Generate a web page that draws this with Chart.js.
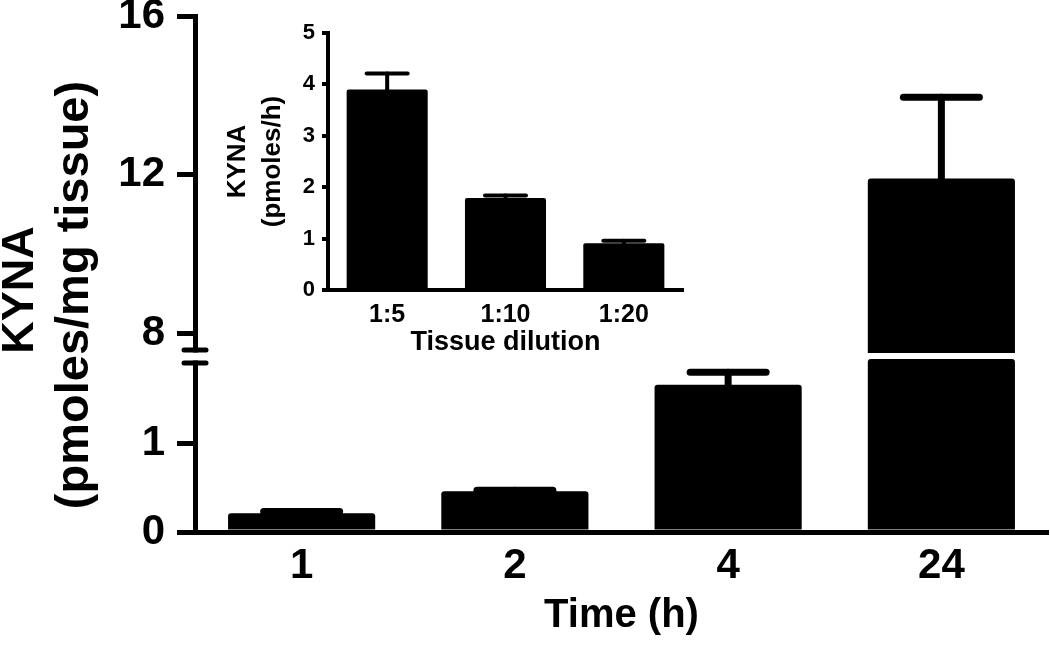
<!DOCTYPE html>
<html>
<head>
<meta charset="utf-8">
<script src="https://cdn.jsdelivr.net/npm/chart.js@4"></script>
<style>
  html, body { margin: 0; padding: 0; background: #fff; }
  #wrap { position: relative; width: 1050px; height: 645px; }
  #main { position: absolute; left: 0; top: 0; }
  #inset { position: absolute; left: 200px; top: 0; }
</style>
</head>
<body>
<div id="wrap">
  <canvas id="main" width="1050" height="645"></canvas>
  <canvas id="inset" width="500" height="370"></canvas>
</div>
<script>
// main panel: KYNA per mg tissue vs incubation time
const times = ['1', '2', '4', '24'];
const kyna = [0.21, 0.46, 1.66, 11.9];
const kynaErr = [0.02, 0.01, 0.14, 2.05];
const lowTicks = [0, 1];
const highTicks = [8, 12, 16];
const lowMax = 1.95;
const highMin = 7.5;
const highMax = 16;

// inset: KYNA per hour vs tissue dilution
const dilutions = ['1:5', '1:10', '1:20'];
const rate = [3.9, 1.79, 0.91];
const rateErr = [0.31, 0.05, 0.05];
const insetTicks = [0, 1, 2, 3, 4, 5];

Chart.defaults.font.family = "'Liberation Sans', Arial, sans-serif";
Chart.defaults.font.weight = 'bold';
Chart.defaults.color = '#000';

// error bars (upper side only), drawn on whichever y scale holds the top
const errorBars = {
  id: 'errorBars',
  afterDatasetsDraw(chart, args, opts) {
    const ctx = chart.ctx;
    const xs = chart.scales.x;
    const ys = opts.scaleIds.map(id => chart.scales[id]);
    ctx.save();
    ctx.strokeStyle = '#000';
    ctx.lineCap = 'round';
    opts.values.forEach((v, i) => {
      const top = v + opts.errors[i];
      const s = ys.find(sc => top <= sc.max) || ys[ys.length - 1];
      const x = xs.getPixelForValue(i);
      const yTop = s.getPixelForValue(top);
      const yBase = s.getPixelForValue(Math.max(v, s.min));
      ctx.lineWidth = opts.stem;
      ctx.beginPath();
      ctx.moveTo(x, yBase);
      ctx.lineTo(x, yTop);
      ctx.stroke();
      ctx.lineWidth = opts.capThick;
      ctx.beginPath();
      ctx.moveTo(x - opts.capWidth / 2, yTop);
      ctx.lineTo(x + opts.capWidth / 2, yTop);
      ctx.stroke();
    });
    ctx.restore();
  }
};

// axis break marks + rotated y title for main chart
const mainExtras = {
  id: 'mainExtras',
  afterDraw(chart) {
    const ctx = chart.ctx;
    const hi = chart.scales.yHigh, lo = chart.scales.yLow;
    const ax = chart.chartArea.left;
    ctx.save();
    // open the axis a little wider than the bar gap
    ctx.fillStyle = '#fff';
    ctx.fillRect(ax - 4, hi.bottom - 0.5, 8, lo.top - hi.bottom + 2);
    ctx.strokeStyle = '#000';
    ctx.lineWidth = 5;
    ctx.lineCap = 'round';
    [hi.bottom - 3, lo.top + 4].forEach(y => {
      ctx.beginPath();
      ctx.moveTo(ax - 11, y);
      ctx.lineTo(ax + 11, y);
      ctx.stroke();
    });
    ctx.translate(0, 290);
    ctx.rotate(-Math.PI / 2);
    ctx.fillStyle = '#000';
    ctx.textAlign = 'center';
    ctx.textBaseline = 'alphabetic';
    ctx.font = "bold 45px 'Liberation Sans', Arial, sans-serif";
    ctx.fillText('KYNA', 0, 33);
    ctx.font = "bold 47px 'Liberation Sans', Arial, sans-serif";
    ctx.fillText('(pmoles/mg tissue)', -5, 88);
    ctx.restore();
  }
};

function fixTicks(list) {
  return scale => { scale.ticks = list.map(v => ({ value: v })); };
}
function yWidth(w) {
  return scale => { scale.width = w; scale.paddingTop = 0; scale.paddingBottom = 0; };
}

const yCommon = {
  type: 'linear',
  position: 'left',
  stack: 'kyna',
  border: { display: true, color: '#000', width: 5 },
  grid: { display: true, drawOnChartArea: false, drawTicks: true, tickLength: 18, color: '#000', lineWidth: 5 },
  ticks: { font: { size: 42, weight: 'bold' }, padding: 12, color: '#000' }
};

const barStyle = {
  backgroundColor: '#000',
  borderWidth: 0,
  borderRadius: 3,
  grouped: false,
  barPercentage: 0.69,
  categoryPercentage: 1
};

new Chart(document.getElementById('main'), {
  type: 'bar',
  data: {
    labels: times,
    datasets: [
      Object.assign({ yAxisID: 'yLow', data: kyna.map(v => [0, Math.min(v, lowMax)]) }, barStyle),
      Object.assign({ yAxisID: 'yHigh', data: kyna.map(v => v > highMin ? [highMin, v] : null) }, barStyle)
    ]
  },
  options: {
    responsive: false,
    animation: false,
    layout: { padding: { top: 16, right: 2, left: 0, bottom: 0 } },
    plugins: {
      legend: { display: false },
      tooltip: { enabled: false },
      errorBars: { values: kyna, errors: kynaErr, scaleIds: ['yLow', 'yHigh'], stem: 7, capThick: 7, capWidth: 76 }
    },
    scales: {
      x: {
        type: 'category',
        offset: true,
        border: { display: true, color: '#000', width: 5 },
        grid: { display: false, drawTicks: false },
        ticks: { font: { size: 42, weight: 'bold' }, padding: 9, maxRotation: 0, color: '#000' },
        title: { display: true, text: 'Time (h)', font: { size: 40, weight: 'bold' }, padding: { top: 0, bottom: 5 }, color: '#000' },
        afterFit: scale => { scale.height = 113; }
      },
      yLow: Object.assign({}, yCommon, {
        min: 0, max: lowMax, stackWeight: 173,
        afterBuildTicks: fixTicks(lowTicks), afterFit: yWidth(195)
      }),
      yGap: { type: 'linear', position: 'left', stack: 'kyna', stackWeight: 6, display: false, min: 0, max: 1 },
      yHigh: Object.assign({}, yCommon, {
        min: highMin, max: highMax, stackWeight: 337,
        afterBuildTicks: fixTicks(highTicks), afterFit: yWidth(195)
      })
    }
  },
  plugins: [errorBars, mainExtras]
});

new Chart(document.getElementById('inset'), {
  type: 'bar',
  data: {
    labels: dilutions,
    datasets: [Object.assign({ data: rate }, barStyle, { barPercentage: 0.685, borderRadius: 2 })]
  },
  options: {
    responsive: false,
    animation: false,
    layout: { padding: { top: 33, right: 17, left: 0, bottom: 0 } },
    plugins: {
      legend: { display: false },
      tooltip: { enabled: false },
      errorBars: { values: rate, errors: rateErr, scaleIds: ['y'], stem: 4, capThick: 4, capWidth: 41 }
    },
    scales: {
      x: {
        type: 'category',
        offset: true,
        border: { display: true, color: '#000', width: 4 },
        grid: { display: false, drawTicks: false },
        ticks: { font: { size: 25, weight: 'bold' }, padding: 10, maxRotation: 0, color: '#000' },
        title: { display: true, text: 'Tissue dilution', font: { size: 27, weight: 'bold' }, padding: { top: 0, bottom: 11 }, color: '#000' },
        afterFit: scale => { scale.height = 80; }
      },
      y: {
        type: 'linear',
        min: 0, max: 5,
        border: { display: true, color: '#000', width: 4 },
        grid: { display: true, drawOnChartArea: false, drawTicks: true, tickLength: 6, color: '#000', lineWidth: 4 },
        ticks: { font: { size: 22, weight: 'bold' }, padding: 7, color: '#000' },
        title: { display: true, text: ['KYNA', '(pmoles/h)'], font: { size: 26, weight: 'bold', lineHeight: 1.33 }, padding: { top: 21, bottom: 0 }, color: '#000' },
        afterBuildTicks: fixTicks(insetTicks),
        afterFit: yWidth(128)
      }
    }
  },
  plugins: [errorBars]
});
</script>
</body>
</html>
